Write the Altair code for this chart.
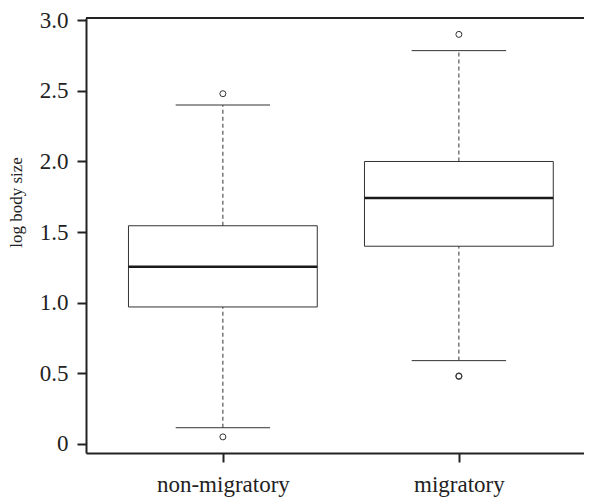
import altair as alt
import pandas as pd

groups = ["non-migratory", "migratory"]
positions = [1, 2]
q1 = [0.97, 1.40]
median = [1.255, 1.742]
q3 = [1.545, 2.00]
lower = [0.115, 0.59]
upper = [2.40, 2.785]

outlier_groups = ["non-migratory", "non-migratory", "migratory", "migratory", "migratory"]
outlier_values = [0.05, 2.48, 0.478, 0.482, 2.90]

y_ticks = [0, 0.5, 1.0, 1.5, 2.0, 2.5, 3.0]

W = 498
H = 435
PX_PER_UNIT = 236
x_min = 0.42
x_max = x_min + W / PX_PER_UNIT
y_dom = [-0.064, 3.016]

pos_of = dict(zip(groups, positions))
box = pd.DataFrame({
    "group": groups, "pos": positions,
    "left": [p - 0.4 for p in positions], "right": [p + 0.4 for p in positions],
    "capl": [p - 0.2 for p in positions], "capr": [p + 0.2 for p in positions],
    "q1": q1, "median": median, "q3": q3, "lower": lower, "upper": upper,
})
outl = pd.DataFrame({"group": outlier_groups, "value": outlier_values,
                     "pos": [pos_of[g] for g in outlier_groups]})

FONT = "Liberation Serif"
INK = "#222222"
LINE = "#333333"

xscale = alt.Scale(domain=[x_min, x_max], nice=False, zero=False)
yscale = alt.Scale(domain=y_dom, nice=False, zero=False)

label_expr = "datum.value == 1 ? 'non-migratory' : (datum.value == 2 ? 'migratory' : '')"

x_axis = alt.Axis(values=positions, labelExpr=label_expr, title=None, grid=False,
                  domainColor=INK, domainWidth=2, tickColor=INK, tickWidth=2, tickSize=9,
                  labelFont=FONT, labelFontSize=23, labelColor=INK, labelPadding=11,
                  labelFlush=False)
y_axis = alt.Axis(values=y_ticks, labelExpr="datum.value == 0 ? '0' : format(datum.value, '.1f')",
                  title="log body size", grid=False,
                  domainColor=INK, domainWidth=2, tickColor=INK, tickWidth=2, tickSize=9,
                  labelFont=FONT, labelFontSize=23, labelColor=INK, labelPadding=9,
                  titleFont=FONT, titleFontSize=17, titleFontWeight="normal", titleColor=INK,
                  titleX=-65, titleY=184, titleAngle=270, titleBaseline="alphabetic",
                  titleAlign="center")

base = alt.Chart(box)

boxes = base.mark_rect(fill="white", stroke=LINE, strokeWidth=1).encode(
    x=alt.X("left:Q", scale=xscale, axis=x_axis), x2="right:Q",
    y=alt.Y("q1:Q", scale=yscale, axis=y_axis), y2="q3:Q")

medians = base.mark_rule(color="#1a1a1a", strokeWidth=2.6).encode(
    x="left:Q", x2="right:Q", y="median:Q")

whisk_up = base.mark_rule(color=LINE, strokeWidth=1, strokeDash=[4, 3]).encode(
    x="pos:Q", y="q3:Q", y2="upper:Q")
whisk_lo = base.mark_rule(color=LINE, strokeWidth=1, strokeDash=[4, 3]).encode(
    x="pos:Q", y="lower:Q", y2="q1:Q")

cap_up = base.mark_rule(color=LINE, strokeWidth=1).encode(x="capl:Q", x2="capr:Q", y="upper:Q")
cap_lo = base.mark_rule(color=LINE, strokeWidth=1).encode(x="capl:Q", x2="capr:Q", y="lower:Q")

points = alt.Chart(outl).mark_point(shape="circle", filled=False, color=LINE,
                                    strokeWidth=1, size=36, opacity=1).encode(
    x="pos:Q", y="value:Q")

top_line = alt.Chart(pd.DataFrame({"a": [0]})).mark_rule(color=INK, strokeWidth=2).encode(
    x=alt.value(0), x2=alt.value(W), y=alt.value(0))

chart = alt.layer(boxes, whisk_up, whisk_lo, cap_up, cap_lo, medians, points, top_line).properties(
    width=W, height=H,
    autosize=alt.AutoSizeParams(type="none"),
    padding={"left": 78, "top": 10, "right": 0, "bottom": 44},
).configure_view(stroke=None)

chart.save("out.html", embed_options={"renderer": "svg", "actions": False})
